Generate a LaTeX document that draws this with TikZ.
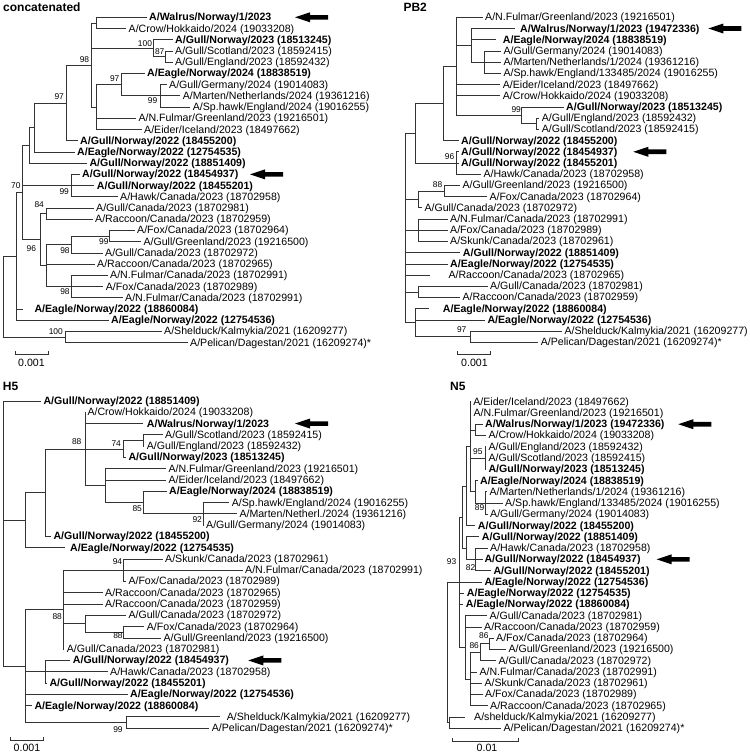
\documentclass[tikz,border=0pt]{standalone}
\usepackage{fontspec}
\setmainfont{Liberation Sans}
\newcommand\leaffont{\fontsize{10.6}{12}\selectfont}
\newcommand\bootfont{\fontsize{8.4}{10}\selectfont}
\newcommand\ttlfont{\fontsize{12}{14}\selectfont\bfseries}
\newcommand\conn[2]{\draw[br] (#1) |- (#2);}
\newcommand\bigarrow[1]{\fill[black] (#1) -- ++(15,-5) -- ++(0,2.7) -- ++(18,0) -- ++(0,4.6) -- ++(-18,0) -- ++(0,2.7) -- cycle;}
\tikzset{
  leaf/.style={anchor=west, inner xsep=2.5pt, inner ysep=0pt, font=\leaffont, text height=7.6pt, text depth=0.6pt},
  bleaf/.style={leaf, font=\leaffont\bfseries},
  boot/.style={inner sep=0pt, font=\bootfont},
  ttl/.style={anchor=west, inner sep=0pt, font=\ttlfont},
  sbl/.style={inner sep=0pt, font=\leaffont},
  br/.style={line width=0.7pt, black!80},
}
\begin{document}
\begin{tikzpicture}[x=1pt,y=-1pt]
\fill[white] (0,0) rectangle (750,753);
\useasboundingbox (0,0) rectangle (750,753);

%================ concatenated ================
\node[ttl] (a-title) at (3,7) {concatenated};
\node[bleaf] (a1) at (146.5,17.30) {A/Walrus/Norway/1/2023};
\node[leaf] (a2) at (126.0,28.52) {A/Crow/Hokkaido/2024 (19033208)};
\node[bleaf] (a3) at (172.5,39.74) {A/Gull/Norway/2023 (18513245)};
\node[leaf] (a4) at (172.5,50.96) {A/Gull/Scotland/2023 (18592415)};
\node[leaf] (a5) at (172.5,62.18) {A/Gull/England/2023 (18592432)};
\node[bleaf] (a6) at (144.5,73.40) {A/Eagle/Norway/2024 (18838519)};
\node[leaf] (a7) at (166.5,84.62) {A/Gull/Germany/2024 (19014083)};
\node[leaf] (a8) at (180.2,95.84) {A/Marten/Netherlands/2024 (19361216)};
\node[leaf] (a9) at (190.2,107.06) {A/Sp.hawk/England/2024 (19016255)};
\node[leaf] (a10) at (135.8,118.28) {A/N.Fulmar/Greenland/2023 (19216501)};
\node[leaf] (a11) at (141.5,129.50) {A/Eider/Iceland/2023 (18497662)};
\node[bleaf] (a12) at (77.5,140.72) {A/Gull/Norway/2022 (18455200)};
\node[bleaf] (a13) at (74.5,151.94) {A/Eagle/Norway/2022 (12754535)};
\node[bleaf] (a14) at (86.8,163.16) {A/Gull/Norway/2022 (18851409)};
\node[bleaf] (a15) at (79.5,174.38) {A/Gull/Norway/2022 (18454937)};
\node[bleaf] (a16) at (94.2,185.60) {A/Gull/Norway/2022 (18455201)};
\node[leaf] (a17) at (117.5,196.82) {A/Hawk/Canada/2023 (18702958)};
\node[leaf] (a18) at (93.5,208.04) {A/Gull/Canada/2023 (18702981)};
\node[leaf] (a19) at (92.5,219.26) {A/Raccoon/Canada/2023 (18702959)};
\node[leaf] (a20) at (134.5,230.48) {A/Fox/Canada/2023 (18702964)};
\node[leaf] (a21) at (140.8,241.70) {A/Gull/Greenland/2023 (19216500)};
\node[leaf] (a22) at (102.5,252.92) {A/Gull/Canada/2023 (18702972)};
\node[leaf] (a23) at (94.5,264.14) {A/Raccoon/Canada/2023 (18702965)};
\node[leaf] (a24) at (107.5,275.36) {A/N.Fulmar/Canada/2023 (18702991)};
\node[leaf] (a25) at (103.2,286.58) {A/Fox/Canada/2023 (18702989)};
\node[leaf] (a26) at (122.5,297.80) {A/N.Fulmar/Canada/2023 (18702991)};
\node[bleaf,inner xsep=11.6pt] (a27) at (22.7,309.02) {A/Eagle/Norway/2022 (18860084)};
\node[bleaf] (a28) at (108.5,320.24) {A/Eagle/Norway/2022 (12754536)};
\node[leaf] (a29) at (161.5,331.46) {A/Shelduck/Kalmykia/2021 (16209277)};
\node[leaf] (a30) at (187.5,342.68) {A/Pelican/Dagestan/2021 (16209274)*};

\coordinate (a-nWC) at (96.7,22.91);
\coordinate (a-n87) at (165.7,56.57);
\coordinate (a-n100) at (153.3,48.16);
\coordinate (a-n99u) at (160,95.84);
\coordinate (a-n97u) at (121.7,84.62);
\coordinate (a-nE) at (96.7,107.06);
\coordinate (a-n98) at (91.7,64.99);
\coordinate (a-n97) at (66.7,102.85);
\coordinate (a-n34) at (34.3,127.4);
\coordinate (a-n29) at (29.3,145.28);
\coordinate (a-n99l) at (71.7,185.6);
\coordinate (a-n84) at (46.7,213.65);
\coordinate (a-n99b) at (109.3,236.09);
\coordinate (a-n98a) at (71.7,244.5);
\coordinate (a-n98b) at (71.7,286.58);
\coordinate (a-nC) at (46.7,265.54);
\coordinate (a-n96) at (40.7,239.6);
\coordinate (a-n70) at (22.7,192.44);
\coordinate (a-n16) at (16,256.34);
\coordinate (a-n100b) at (65,337.07);
\coordinate (a-root) at (3.3,296.7);

\conn{a-nWC}{a1.west}\conn{a-nWC}{a2.west}
\conn{a-n87}{a4.west}\conn{a-n87}{a5.west}
\conn{a-n100}{a3.west}\conn{a-n100}{a-n87}
\conn{a-n99u}{a7.west}\conn{a-n99u}{a8.west}\conn{a-n99u}{a9.west}
\conn{a-n97u}{a6.west}\conn{a-n97u}{a-n99u}
\conn{a-nE}{a-n97u}\conn{a-nE}{a10.west}\conn{a-nE}{a11.west}
\conn{a-n98}{a-nWC}\conn{a-n98}{a-n100}\conn{a-n98}{a-nE}
\conn{a-n97}{a-n98}\conn{a-n97}{a12.west}
\conn{a-n34}{a-n97}\conn{a-n34}{a13.west}
\conn{a-n29}{a-n34}\conn{a-n29}{a14.west}
\conn{a-n99l}{a15.west}\conn{a-n99l}{a16.west}\conn{a-n99l}{a17.west}
\conn{a-n84}{a18.west}\conn{a-n84}{a19.west}
\conn{a-n99b}{a20.west}\conn{a-n99b}{a21.west}
\conn{a-n98a}{a-n99b}\conn{a-n98a}{a22.west}
\conn{a-n98b}{a24.west}\conn{a-n98b}{a25.west}\conn{a-n98b}{a26.west}
\conn{a-nC}{a-n98a}\conn{a-nC}{a23.west}\conn{a-nC}{a-n98b}
\conn{a-n96}{a-n84}\conn{a-n96}{a-nC}
\conn{a-n70}{a-n29}\conn{a-n70}{a-n99l}\conn{a-n70}{a-n96}
\conn{a-n16}{a-n70}\conn{a-n16}{a27.west}\conn{a-n16}{a28.west}
\conn{a-n100b}{a29.west}\conn{a-n100b}{a30.west}
\conn{a-root}{a-n16}\conn{a-root}{a-n100b}

\node[boot] (a-b1) at (84.5,59.3) {98};
\node[boot] (a-b2) at (145,43.3) {100};
\node[boot] (a-b3) at (159.7,51.5) {87};
\node[boot] (a-b4) at (114.7,78.3) {97};
\node[boot] (a-b5) at (152.5,100.5) {99};
\node[boot] (a-b6) at (59.2,96.7) {97};
\node[boot] (a-b7) at (15.8,185.5) {70};
\node[boot] (a-b8) at (64.2,191.7) {99};
\node[boot] (a-b9) at (39.2,205) {84};
\node[boot] (a-b10) at (31.3,249) {96};
\node[boot] (a-b11) at (65,251) {98};
\node[boot] (a-b12) at (103.8,241.7) {99};
\node[boot] (a-b13) at (65,291.7) {98};
\node[boot] (a-b14) at (55.8,331.3) {100};

\coordinate (a-sb1) at (15,354.3);
\coordinate (a-sb2) at (48.3,354.3);
\draw[br] (a-sb1) ++(0,-3) -- (a-sb1) -- (a-sb2) -- ++(0,-3);
\node[sbl] (a-sbl) at (31.5,363) {0.001};

\coordinate (a-ar1) at (295,17.30);
\coordinate (a-ar2) at (250,174.38);
\bigarrow{a-ar1}\bigarrow{a-ar2}

%================ PB2 ================
\node[ttl] (b-title) at (403.3,7.3) {PB2};
\node[leaf] (b1) at (482.5,17.30) {A/N.Fulmar/Greenland/2023 (19216501)};
\node[bleaf,inner xsep=5pt] (b2) at (515,28.51) {A/Walrus/Norway/1/2023 (19472336)};
\node[bleaf,inner xsep=6.5pt] (b3) at (496.2,39.71) {A/Eagle/Norway/2024 (18838519)};
\node[leaf] (b4) at (500.8,50.92) {A/Gull/Germany/2024 (19014083)};
\node[leaf] (b5) at (500.8,62.13) {A/Marten/Netherlands/1/2024 (19361216)};
\node[leaf] (b6) at (500.8,73.34) {A/Sp.hawk/England/133485/2024 (19016255)};
\node[leaf] (b7) at (500.2,84.54) {A/Eider/Iceland/2023 (18497662)};
\node[leaf] (b8) at (500.2,95.75) {A/Crow/Hokkaido/2024 (19033208)};
\node[bleaf] (b9) at (563.5,106.96) {A/Gull/Norway/2023 (18513245)};
\node[leaf] (b10) at (539.2,118.16) {A/Gull/England/2023 (18592432)};
\node[leaf] (b11) at (539.2,129.37) {A/Gull/Scotland/2023 (18592415)};
\node[bleaf] (b12) at (458.5,140.58) {A/Gull/Norway/2022 (18455200)};
\node[bleaf] (b13) at (458.5,151.78) {A/Gull/Norway/2022 (18454937)};
\node[bleaf] (b14) at (458.5,162.99) {A/Gull/Norway/2022 (18455201)};
\node[leaf] (b15) at (480.8,174.2) {A/Hawk/Canada/2023 (18702958)};
\node[leaf] (b16) at (459.8,185.41) {A/Gull/Greenland/2023 (19216500)};
\node[leaf] (b17) at (486.8,196.61) {A/Fox/Canada/2023 (18702964)};
\node[leaf] (b18) at (421.8,207.82) {A/Gull/Canada/2023 (18702972)};
\node[leaf] (b19) at (447.5,219.03) {A/N.Fulmar/Canada/2023 (18702991)};
\node[leaf] (b20) at (447.5,230.23) {A/Fox/Canada/2023 (18702989)};
\node[leaf] (b21) at (447.5,241.44) {A/Skunk/Canada/2023 (18702961)};
\node[bleaf] (b22) at (460.2,252.65) {A/Gull/Norway/2022 (18851409)};
\node[bleaf] (b23) at (447.5,263.86) {A/Eagle/Norway/2022 (12754535)};
\node[leaf,inner xsep=18pt] (b24) at (430.3,275.06) {A/Raccoon/Canada/2023 (18702965)};
\node[leaf] (b25) at (487.5,286.27) {A/Gull/Canada/2023 (18702981)};
\node[leaf] (b26) at (459.8,297.48) {A/Raccoon/Canada/2023 (18702959)};
\node[bleaf,inner xsep=14pt] (b27) at (428.7,308.68) {A/Eagle/Norway/2022 (18860084)};
\node[bleaf] (b28) at (484.8,319.89) {A/Eagle/Norway/2022 (12754536)};
\node[leaf] (b29) at (561.8,331.1) {A/Shelduck/Kalmykia/2021 (16209277)};
\node[leaf] (b30) at (538.2,342.3) {A/Pelican/Dagestan/2021 (16209274)*};

\coordinate (b-n4) at (484.3,62.13);
\coordinate (b-n3) at (471.7,45.32);
\coordinate (b-n99e) at (536.7,123.77);
\coordinate (b-n99) at (521.7,115.36);
\coordinate (b-n2) at (456.7,66.33);
\coordinate (b-n1) at (443.3,103.45);
\coordinate (b-n96) at (456.7,162.99);
\coordinate (b-nA) at (415.7,133.22);
\coordinate (b-n88) at (444,191.01);
\coordinate (b-nB) at (418.3,199.42);
\coordinate (b-nC) at (418.3,230.23);
\coordinate (b-nD) at (418.3,291.88);
\coordinate (b-n97) at (470.7,336.7);
\coordinate (b-nE) at (415.7,322.69);
\coordinate (b-root) at (405,227.96);

\conn{b-n4}{b4.west}\conn{b-n4}{b5.west}\conn{b-n4}{b6.west}
\conn{b-n3}{b2.west}\conn{b-n3}{b3.west}\conn{b-n3}{b-n4}
\conn{b-n99e}{b10.west}\conn{b-n99e}{b11.west}
\conn{b-n99}{b9.west}\conn{b-n99}{b-n99e}
\conn{b-n2}{b1.west}\conn{b-n2}{b-n3}\conn{b-n2}{b7.west}\conn{b-n2}{b8.west}\conn{b-n2}{b-n99}
\conn{b-n1}{b-n2}\conn{b-n1}{b12.west}
\conn{b-n96}{b13.west}\conn{b-n96}{b14.west}\conn{b-n96}{b15.west}
\conn{b-nA}{b-n1}\conn{b-nA}{b-n96}
\conn{b-n88}{b16.west}\conn{b-n88}{b17.west}
\conn{b-nB}{b-n88}\conn{b-nB}{b18.west}
\conn{b-nC}{b19.west}\conn{b-nC}{b20.west}\conn{b-nC}{b21.west}
\conn{b-nD}{b25.west}\conn{b-nD}{b26.west}
\conn{b-n97}{b29.west}\conn{b-n97}{b30.west}
\conn{b-nE}{b27.west}\conn{b-nE}{b28.west}\conn{b-nE}{b-n97}
\conn{b-root}{b-nA}\conn{b-root}{b-nB}\conn{b-root}{b-nC}\conn{b-root}{b22.west}
\conn{b-root}{b23.west}\conn{b-root}{b24.west}\conn{b-root}{b-nD}\conn{b-root}{b-nE}

\node[boot] (b-b1) at (516.2,110) {99};
\node[boot] (b-b2) at (449.5,156.7) {96};
\node[boot] (b-b3) at (437.5,185) {88};
\node[boot] (b-b4) at (461.7,330) {97};

\coordinate (b-sb1) at (457.7,354.3);
\coordinate (b-sb2) at (490,354.3);
\draw[br] (b-sb1) ++(0,-3) -- (b-sb1) -- (b-sb2) -- ++(0,-3);
\node[sbl] (b-sbl) at (474.5,363.3) {0.001};

\coordinate (b-ar1) at (708.3,28.51);
\coordinate (b-ar2) at (633.3,151.78);
\bigarrow{b-ar1}\bigarrow{b-ar2}

%================ H5 ================
\node[ttl] (c-title) at (2.7,386.7) {H5};
\node[bleaf] (c1) at (40.8,401.00) {A/Gull/Norway/2022 (18851409)};
\node[leaf,inner xsep=1.8pt] (c2) at (85.5,412.28) {A/Crow/Hokkaido/2024 (19033208)};
\node[bleaf,inner xsep=3.4pt] (c3) at (143.3,423.56) {A/Walrus/Norway/1/2023};
\node[leaf] (c4) at (162.5,434.84) {A/Gull/Scotland/2023 (18592415)};
\node[leaf] (c5) at (144.2,446.12) {A/Gull/England/2023 (18592432)};
\node[bleaf] (c6) at (125.8,457.40) {A/Gull/Norway/2023 (18513245)};
\node[leaf] (c7) at (165.8,468.68) {A/N.Fulmar/Greenland/2023 (19216501)};
\node[leaf] (c8) at (165.8,479.96) {A/Eider/Iceland/2023 (18497662)};
\node[bleaf] (c9) at (166.5,491.24) {A/Eagle/Norway/2024 (18838519)};
\node[leaf] (c10) at (229.2,502.52) {A/Sp.hawk/England/2024 (19016255)};
\node[leaf] (c11) at (236.8,513.80) {A/Marten/Netherl./2024 (19361216)};
\node[leaf] (c12) at (203.5,525.08) {A/Gull/Germany/2024 (19014083)};
\node[bleaf] (c13) at (50.8,536.36) {A/Gull/Norway/2022 (18455200)};
\node[bleaf,inner xsep=5pt] (c14) at (65,547.64) {A/Eagle/Norway/2022 (12754535)};
\node[leaf] (c15) at (162.5,558.92) {A/Skunk/Canada/2023 (18702961)};
\node[leaf] (c16) at (242.5,570.20) {A/N.Fulmar/Canada/2023 (18702991)};
\node[leaf] (c17) at (125.8,581.48) {A/Fox/Canada/2023 (18702989)};
\node[leaf] (c18) at (102.5,592.76) {A/Raccoon/Canada/2023 (18702965)};
\node[leaf] (c19) at (102.5,604.04) {A/Raccoon/Canada/2023 (18702959)};
\node[leaf] (c20) at (125.8,615.32) {A/Gull/Canada/2023 (18702972)};
\node[leaf] (c21) at (144.2,626.60) {A/Fox/Canada/2023 (18702964)};
\node[leaf] (c22) at (160.8,637.88) {A/Gull/Greenland/2023 (19216500)};
\node[leaf] (c23) at (64.2,649.16) {A/Gull/Canada/2023 (18702981)};
\node[bleaf] (c24) at (70.2,660.44) {A/Gull/Norway/2022 (18454937)};
\node[leaf] (c25) at (107.5,671.72) {A/Hawk/Canada/2023 (18702958)};
\node[bleaf] (c26) at (46.8,683.00) {A/Gull/Norway/2022 (18455201)};
\node[bleaf] (c27) at (127.5,694.28) {A/Eagle/Norway/2022 (12754536)};
\node[bleaf] (c28) at (31.8,705.56) {A/Eagle/Norway/2022 (18860084)};
\node[leaf,inner xsep=6.7pt] (c29) at (220,716.84) {A/Shelduck/Kalmykia/2021 (16209277)};
\node[leaf] (c30) at (209.2,728.12) {A/Pelican/Dagestan/2021 (16209274)*};

\coordinate (c-n74) at (143.3,440.48);
\coordinate (c-nG) at (123.3,448.94);
\coordinate (c-n92) at (203.3,513.80);
\coordinate (c-n85) at (143.3,502.52);
\coordinate (c-nF) at (105,485.6);
\coordinate (c-n88) at (85,448.94);
\coordinate (c-n45) at (45,492.65);
\coordinate (c-n25) at (25,520.15);
\coordinate (c-n94) at (123.3,570.2);
\coordinate (c-n85b) at (123.3,632.24);
\coordinate (c-nH) at (85,623.78);
\coordinate (c-n88b) at (63.3,609.68);
\coordinate (c-n45b) at (45,671.72);
\coordinate (c-n99) at (126,722.48);
\coordinate (c-n25b) at (25,666.08);
\coordinate (c-root) at (3.3,533.54);

\conn{c-n74}{c4.west}\conn{c-n74}{c5.west}
\conn{c-nG}{c-n74}\conn{c-nG}{c6.west}
\conn{c-n92}{c10.west}\conn{c-n92}{c11.west}\conn{c-n92}{c12.west}
\conn{c-n85}{c9.west}\conn{c-n85}{c-n92}
\conn{c-nF}{c7.west}\conn{c-nF}{c8.west}\conn{c-nF}{c-n85}
\conn{c-n88}{c2.west}\conn{c-n88}{c3.west}\conn{c-n88}{c-nG}\conn{c-n88}{c-nF}
\conn{c-n45}{c-n88}\conn{c-n45}{c13.west}
\conn{c-n25}{c-n45}\conn{c-n25}{c14.west}
\conn{c-n94}{c15.west}\conn{c-n94}{c16.west}\conn{c-n94}{c17.west}
\conn{c-n85b}{c21.west}\conn{c-n85b}{c22.west}
\conn{c-nH}{c20.west}\conn{c-nH}{c-n85b}
\conn{c-n88b}{c-n94}\conn{c-n88b}{c18.west}\conn{c-n88b}{c19.west}\conn{c-n88b}{c-nH}\conn{c-n88b}{c23.west}
\conn{c-n45b}{c24.west}\conn{c-n45b}{c26.west}
\conn{c-n99}{c29.west}\conn{c-n99}{c30.west}
\conn{c-n25b}{c-n88b}\conn{c-n25b}{c-n45b}\conn{c-n25b}{c25.west}\conn{c-n25b}{c27.west}\conn{c-n25b}{c28.west}\conn{c-n25b}{c-n99}
\conn{c-root}{c1.west}\conn{c-root}{c-n25}\conn{c-root}{c-n25b}

\node[boot] (c-b1) at (76.7,441.7) {88};
\node[boot] (c-b2) at (116.2,444) {74};
\node[boot] (c-b3) at (137.2,508.3) {85};
\node[boot] (c-b4) at (197.2,520) {92};
\node[boot] (c-b5) at (117.5,562) {94};
\node[boot] (c-b6) at (57.2,616.7) {88};
\node[boot] (c-b7) at (118,635.7) {88};
\node[boot] (c-b8) at (118,730) {99};

\coordinate (c-sb1) at (10,740);
\coordinate (c-sb2) at (43.3,740);
\draw[br] (c-sb1) ++(0,-3) -- (c-sb1) -- (c-sb2) -- ++(0,-3);
\node[sbl] (c-sbl) at (27,748.3) {0.001};

\coordinate (c-ar1) at (295,423.56);
\coordinate (c-ar2) at (248.3,660.44);
\bigarrow{c-ar1}\bigarrow{c-ar2}

%================ N5 ================
\node[ttl] (d-title) at (450,386.7) {N5};
\node[leaf,inner xsep=2pt] (d1) at (471.2,401.70) {A/Eider/Iceland/2023 (18497662)};
\node[leaf,inner xsep=2pt] (d2) at (471.4,412.96) {A/N.Fulmar/Greenland/2023 (19216501)};
\node[bleaf] (d3) at (482.5,424.22) {A/Walrus/Norway/1/2023 (19472336)};
\node[leaf] (d4) at (485.8,435.48) {A/Crow/Hokkaido/2024 (19033208)};
\node[leaf] (d5) at (485.8,446.74) {A/Gull/England/2023 (18592432)};
\node[leaf] (d6) at (485.8,458.00) {A/Gull/Scotland/2023 (18592415)};
\node[bleaf] (d7) at (485.8,469.26) {A/Gull/Norway/2023 (18513245)};
\node[bleaf] (d8) at (477.5,480.52) {A/Eagle/Norway/2024 (18838519)};
\node[leaf] (d9) at (486.8,491.78) {A/Marten/Netherlands/1/2024 (19361216)};
\node[leaf] (d10) at (502.5,503.04) {A/Sp.hawk/England/133485/2024 (19016255)};
\node[leaf] (d11) at (487.5,514.30) {A/Gull/Germany/2024 (19014083)};
\node[bleaf] (d12) at (475.2,525.56) {A/Gull/Norway/2022 (18455200)};
\node[bleaf] (d13) at (479.2,536.82) {A/Gull/Norway/2022 (18851409)};
\node[leaf] (d14) at (487.5,548.08) {A/Hawk/Canada/2023 (18702958)};
\node[bleaf,inner xsep=1.8pt] (d15) at (482.5,559.34) {A/Gull/Norway/2022 (18454937)};
\node[bleaf] (d16) at (490.8,570.60) {A/Gull/Norway/2022 (18455201)};
\node[bleaf] (d17) at (481.8,581.86) {A/Eagle/Norway/2022 (12754536)};
\node[bleaf] (d18) at (464.2,593.12) {A/Eagle/Norway/2022 (12754535)};
\node[bleaf] (d19) at (463.2,604.38) {A/Eagle/Norway/2022 (18860084)};
\node[leaf] (d20) at (486.8,615.64) {A/Gull/Canada/2023 (18702981)};
\node[leaf] (d21) at (481.5,626.90) {A/Raccoon/Canada/2023 (18702959)};
\node[leaf] (d22) at (493.5,638.16) {A/Fox/Canada/2023 (18702964)};
\node[leaf] (d23) at (505.8,649.42) {A/Gull/Greenland/2023 (19216500)};
\node[leaf] (d24) at (495.8,660.68) {A/Gull/Canada/2023 (18702972)};
\node[leaf] (d25) at (476.8,671.94) {A/N.Fulmar/Canada/2023 (18702991)};
\node[leaf] (d26) at (481.8,683.20) {A/Skunk/Canada/2023 (18702961)};
\node[leaf] (d27) at (482.5,694.46) {A/Fox/Canada/2023 (18702989)};
\node[leaf] (d28) at (487.5,705.72) {A/Raccoon/Canada/2023 (18702965)};
\node[leaf,inner xsep=9pt] (d29) at (465,716.98) {A/shelduck/Kalmykia/2021 (16209277)};
\node[leaf] (d30) at (500.8,728.24) {A/Pelican/Dagestan/2021 (16209274)*};

\coordinate (d-nWC) at (475,429.85);
\coordinate (d-n95) at (485,458.0);
\coordinate (d-n89) at (485,503.04);
\coordinate (d-nD) at (475,491.78);
\coordinate (d-nX) at (470.2,446.74);
\coordinate (d-nA) at (466.5,486.15);
\coordinate (d-n82) at (475.5,559.34);
\coordinate (d-nB) at (466,548.08);
\coordinate (d-nF) at (462.3,517.12);
\coordinate (d-n86a) at (489.3,643.79);
\coordinate (d-n86b) at (480,652.24);
\coordinate (d-nC) at (470.7,678.98);
\coordinate (d-nG) at (465,647.31);
\coordinate (d-n93) at (459,582.2);
\coordinate (d-nSP) at (449,722.61);
\coordinate (d-root) at (447.7,652.4);

\conn{d-nWC}{d3.west}\conn{d-nWC}{d4.west}
\conn{d-n95}{d5.west}\conn{d-n95}{d6.west}\conn{d-n95}{d7.west}
\conn{d-n89}{d9.west}\conn{d-n89}{d10.west}\conn{d-n89}{d11.west}
\conn{d-nD}{d8.west}\conn{d-nD}{d-n89}
\conn{d-nX}{d1.west}\conn{d-nX}{d2.west}\conn{d-nX}{d-nWC}\conn{d-nX}{d-n95}\conn{d-nX}{d-nD}
\conn{d-nA}{d-nX}\conn{d-nA}{d12.west}
\conn{d-n82}{d14.west}\conn{d-n82}{d15.west}\conn{d-n82}{d16.west}
\conn{d-nB}{d13.west}\conn{d-nB}{d-n82}
\conn{d-nF}{d-nA}\conn{d-nF}{d-nB}
\conn{d-n86a}{d22.west}\conn{d-n86a}{d23.west}
\conn{d-n86b}{d-n86a}\conn{d-n86b}{d24.west}
\conn{d-nC}{d-n86b}\conn{d-nC}{d25.west}\conn{d-nC}{d26.west}\conn{d-nC}{d27.west}\conn{d-nC}{d28.west}
\conn{d-nG}{d20.west}\conn{d-nG}{d21.west}\conn{d-nG}{d-nC}
\conn{d-n93}{d-nF}\conn{d-n93}{d17.west}\conn{d-n93}{d18.west}\conn{d-n93}{d19.west}\conn{d-n93}{d-nG}
\conn{d-nSP}{d29.west}\conn{d-nSP}{d30.west}
\conn{d-root}{d-n93}\conn{d-root}{d-nSP}

\node[boot] (d-b1) at (477.8,451.7) {95};
\node[boot] (d-b2) at (479.5,507.5) {89};
\node[boot] (d-b3) at (451.5,562) {93};
\node[boot] (d-b4) at (470.5,568) {82};
\node[boot] (d-b5) at (483.8,635.7) {86};
\node[boot] (d-b6) at (474.2,645.7) {86};

\coordinate (d-sb1) at (452.3,741);
\coordinate (d-sb2) at (518.3,741);
\draw[br] (d-sb1) ++(0,-3) -- (d-sb1) -- (d-sb2) -- ++(0,-3);
\node[sbl] (d-sbl) at (487,748) {0.01};

\coordinate (d-ar1) at (678.3,424.22);
\coordinate (d-ar2) at (656.7,559.34);
\bigarrow{d-ar1}\bigarrow{d-ar2}
\end{tikzpicture}
\end{document}
